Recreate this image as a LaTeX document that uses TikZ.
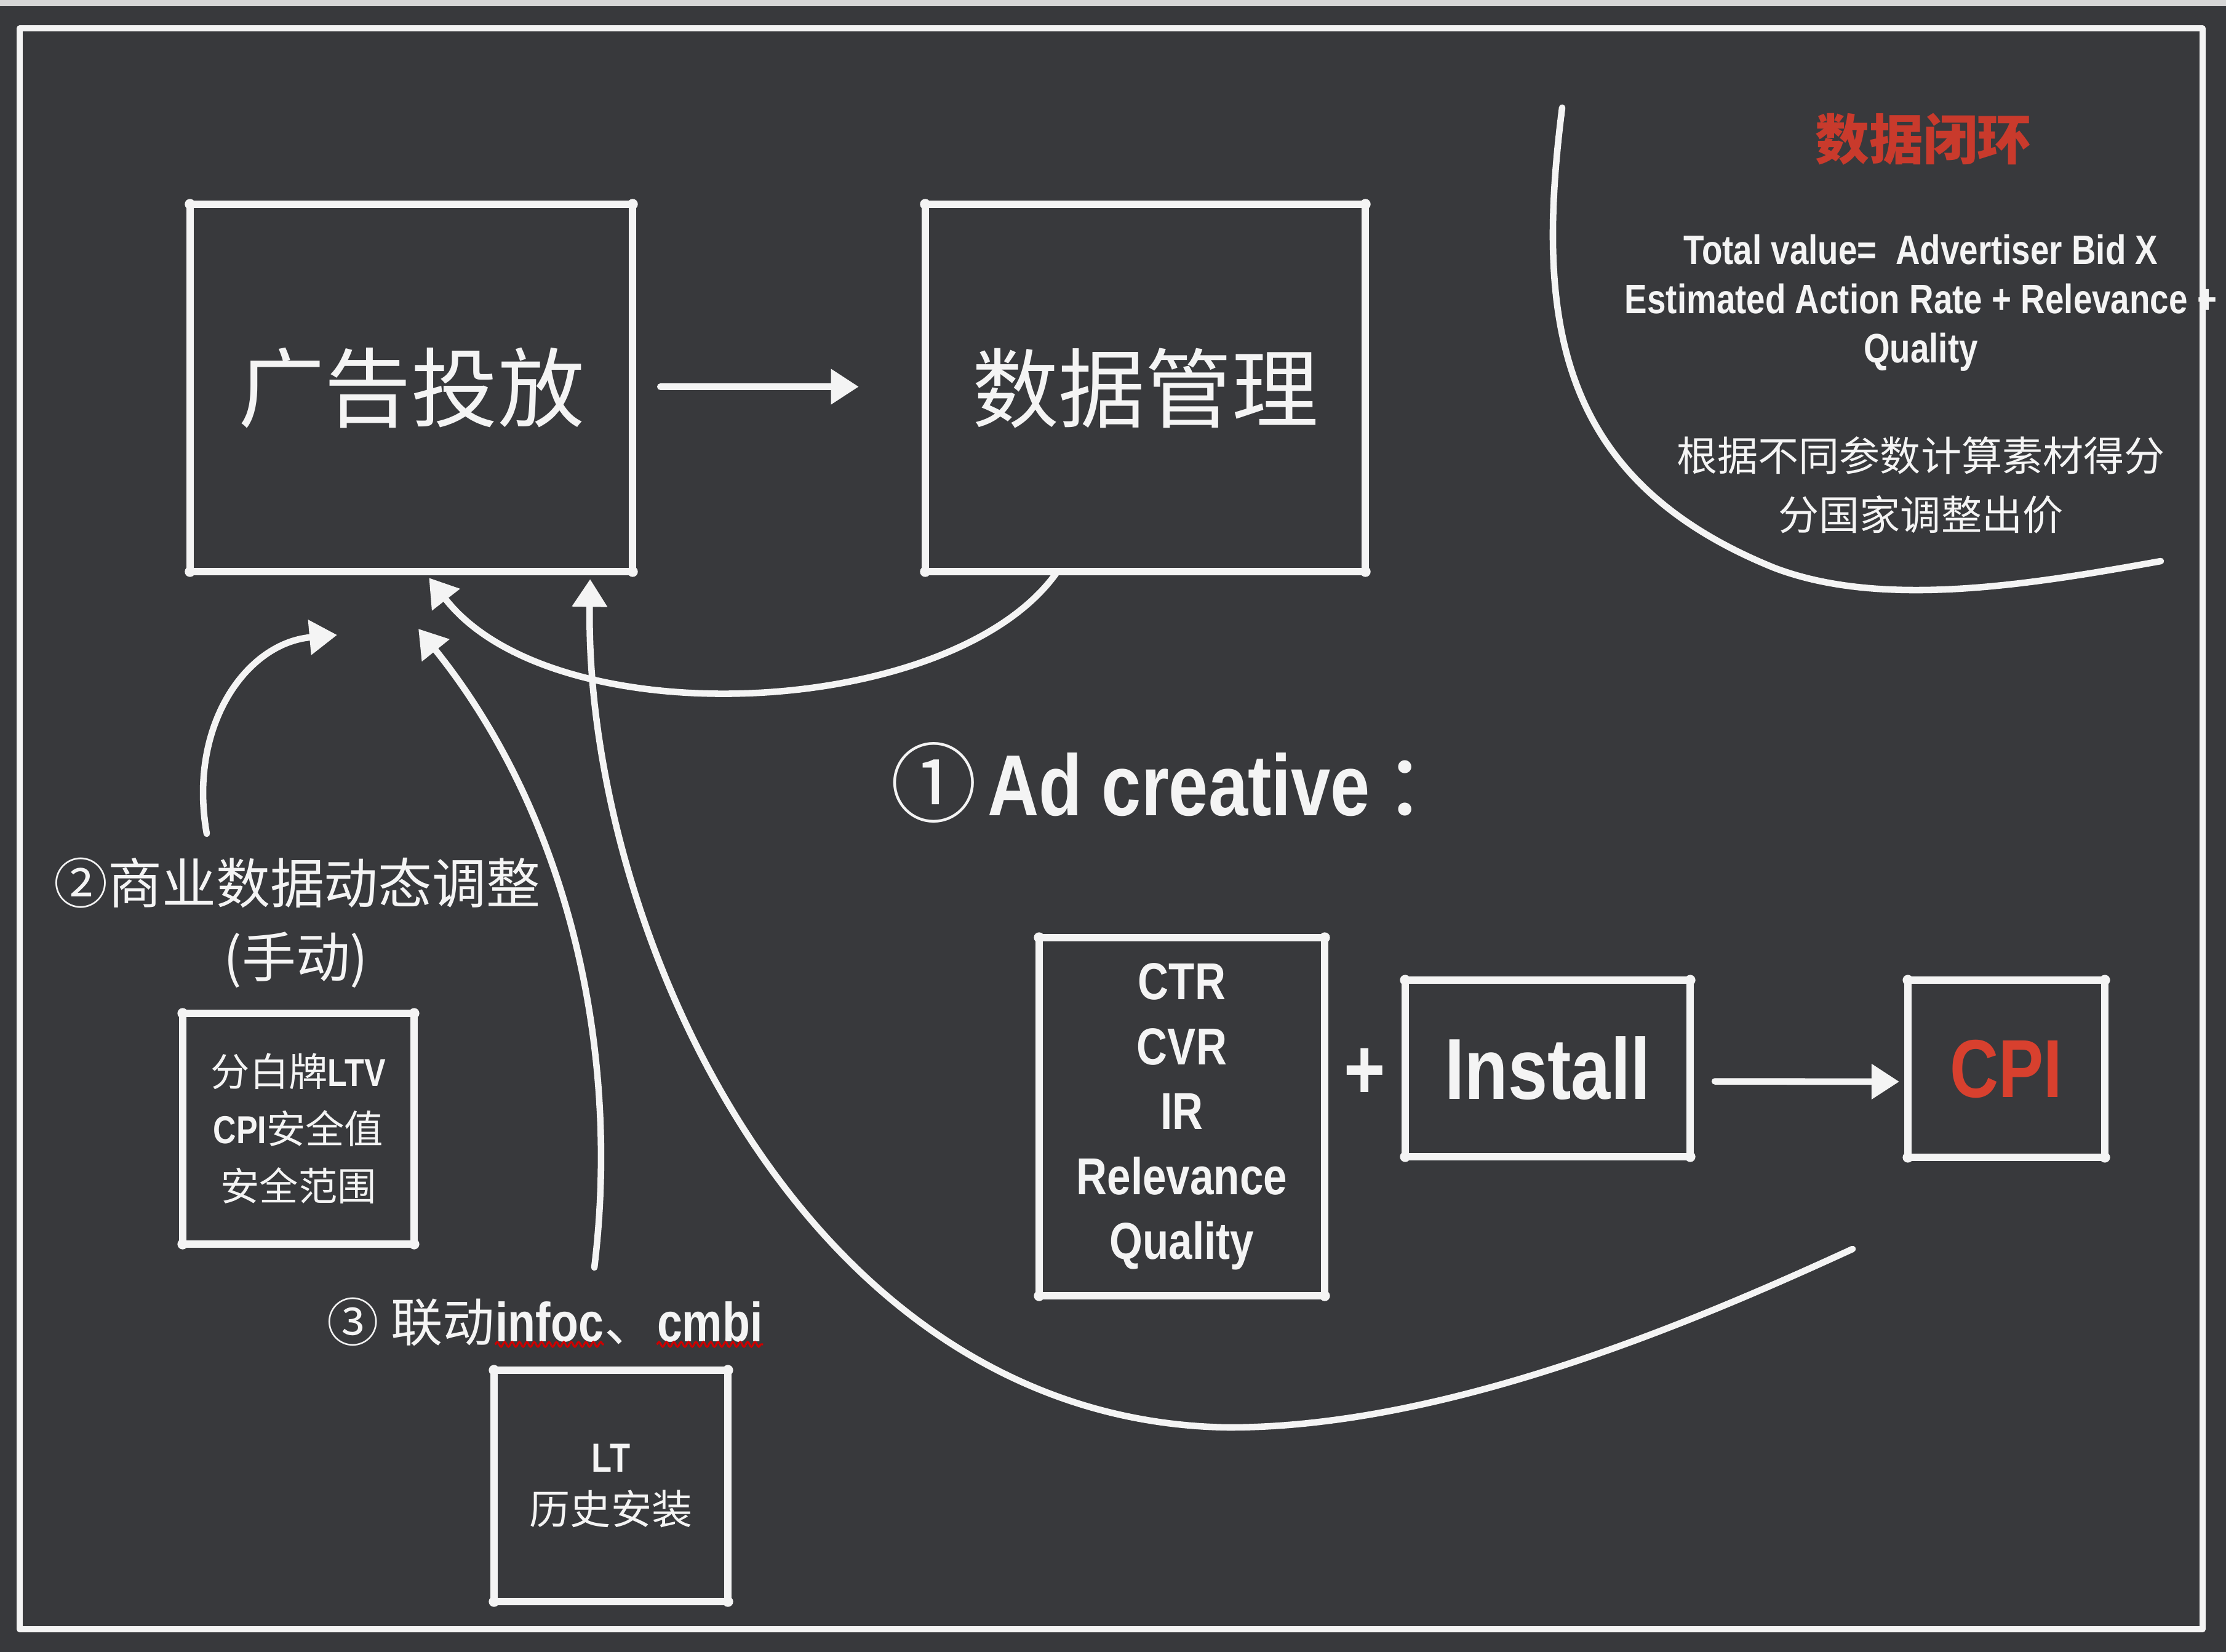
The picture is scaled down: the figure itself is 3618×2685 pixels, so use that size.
\documentclass[tikz,border=0pt]{standalone}
\usepackage{fontspec}
\setmainfont{Liberation Sans}
\newfontfamily\cjkfont{Noto Sans CJK SC}
\newfontfamily\condfont{Liberation Sans}[FakeStretch=0.82]
\usetikzlibrary{arrows.meta,calc,decorations.pathmorphing}
\definecolor{bgc}{HTML}{38393C}
\definecolor{chalk}{HTML}{F4F4F4}
\definecolor{cpired}{HTML}{D8402E}
\definecolor{ttlred}{HTML}{C93A2C}
\definecolor{bandc}{HTML}{D6D6D6}
\newcommand\myfs[2]{\fontsize{#1}{#2}\selectfont}
\tikzset{
  box/.style={draw=chalk, line width=3.4pt, line join=round, outer sep=0pt, inner sep=0pt, text=chalk, align=center},
  conn/.style={draw=chalk, line width=3pt, line cap=round, -{Triangle[length=4.5mm,width=5.5mm]}},
  chalkline/.style={draw=chalk, line width=3pt, line cap=round},
  frame/.style={draw=chalk, line width=2.8pt, line join=round},
  lbl/.style={text=chalk, inner sep=0pt},
  squig/.style={draw=red!80!black, line width=0.9pt, decorate, decoration={snake, amplitude=0.4mm, segment length=1.2mm}}
}
\begin{document}
\begin{tikzpicture}[x=0.01cm,y=-0.01cm]
\useasboundingbox (0,0) rectangle (3618,2685);
\fill[bgc] (0,0) rectangle (3618,2685);
\fill[bandc] (0,0) rectangle (3618,10);
\draw[frame] (32,46) rectangle (3580,2648);

% top boxes
\node[box, minimum width=7.19cm, minimum height=5.97cm, font=\cjkfont\myfs{40}{48}] (box1) at (668.5,630.5) {广告投放};
\node[box, minimum width=7.15cm, minimum height=5.97cm, font=\cjkfont\myfs{40}{48}] (box2) at (1861.5,630.5) {数据管理};
\draw[conn] ([xshift=0.45cm,yshift=0.02cm]box1.east) -- ([xshift=-1.08cm,yshift=0.02cm]box2.west);

% Ad creative
\node[lbl, anchor=west, font=\myfs{40}{48}] (adc) at (1447,1272) {{\cjkfont ①}\hspace{0.12em}{\condfont\bfseries Ad creative}\hspace{0.15em}{\cjkfont ：}};

% bottom right boxes
\node[box, minimum width=4.64cm, minimum height=5.82cm, font=\condfont\bfseries\myfs{24}{30}] (ctr) at (1921,1815) {CTR\\CVR\\IR\\Relevance\\Quality};
\node[lbl, font=\condfont\bfseries\myfs{40}{48}] (plus) at (2218,1745) {+};
\node[box, minimum width=4.63cm, minimum height=2.87cm, font=\condfont\bfseries\myfs{40}{48}] (inst) at (2515.5,1736.5) {Install};
\node[box, minimum width=3.2cm, minimum height=2.88cm, text=cpired, font=\condfont\bfseries\myfs{38}{46}] (cpi) at (3261,1737) {CPI};
\draw[conn] ([xshift=0.4cm,yshift=-0.21cm]inst.east) -- ([xshift=-0.14cm,yshift=-0.21cm]cpi.west);

% top right
\node[lbl, text=ttlred, font=\cjkfont\bfseries\myfs{25}{30}] (ttl) at (3126,226) {数据闭环};
\node[lbl, align=center, font=\condfont\bfseries\myfs{19}{22.8}] (formula) at (3122,492) {Total value=\ \ Advertiser Bid X\\Estimated Action Rate + Relevance +\\Quality};
\node[lbl, align=center, font=\cjkfont\myfs{18.8}{27.3}] (cn) at (3122,788) {根据不同参数计算素材得分\\分国家调整出价};
\coordinate (loopA) at (2539,175);
\coordinate (loopB) at (3512,912);
\draw[chalkline] (loopA) .. controls (2495,520) and (2530,780) .. (2884,923) .. controls (3060,990) and (3300,950) .. (loopB);

% left labels and boxes
\node[lbl, font=\cjkfont\myfs{25}{30}] (lbl2) at (483,1435) {②商业数据动态调整};
\node[lbl, font=\cjkfont\myfs{25}{30}] (lbl2b) at (481,1560) {(手动)};
\node[box, minimum width=3.76cm, minimum height=3.75cm, font=\myfs{18}{26.5}] (ltv) at (485,1834.5) {{\cjkfont 分白牌}{\condfont\bfseries LTV}\\{\condfont\bfseries CPI}{\cjkfont 安全值}\\{\cjkfont 安全范围}};

\node[lbl, anchor=base west, font=\cjkfont\myfs{24}{29}] (l3a) at (531,2180) {③ 联动};
\node[lbl, anchor=base west, font=\condfont\bfseries\myfs{25.5}{29}] (l3b) at (l3a.base east) {infoc};
\node[lbl, anchor=base west, font=\cjkfont\myfs{24}{29}] (l3c) at (l3b.base east) {、};
\node[lbl, anchor=base west, font=\condfont\bfseries\myfs{25.5}{29}] (l3d) at (l3c.base east) {cmbi};
\draw[squig] ([yshift=-0.05cm]l3b.base west) -- ([yshift=-0.05cm]l3b.base east);
\draw[squig] ([yshift=-0.05cm]l3d.base west) -- ([yshift=-0.05cm]l3d.base east);

\node[box, minimum width=3.8cm, minimum height=3.76cm, font=\myfs{18.8}{24}] (lt) at (993,2415) {{\condfont\bfseries LT}\\{\cjkfont 历史安装}};

% box corner blobs
\foreach \n in {box1,box2,ctr,inst,cpi,ltv,lt}{
  \foreach \c in {north west,north east,south west,south east}{
    \fill[chalk] (\n.\c) circle[radius=0.085cm];
  }
}

% connectors
\coordinate (a0) at ($(box2.south west)!0.3!(box2.south east)$);
\coordinate (a1) at ($(box1.south west)!0.54!(box1.south east)+(0,10)$);
\draw[conn] (a0) .. controls (1550,1170) and (900,1200) .. (a1);

\coordinate (b0) at (336,1355);
\coordinate (b1) at (548,1032);
\draw[conn] (b0) .. controls (305,1180) and (400,1045) .. (b1);

\coordinate (c0) at (966,2060);
\coordinate (c1) at (680,1022);
\draw[conn] (c0) .. controls (1010,1700) and (920,1320) .. (c1);

\coordinate (d0) at (3011,2030);
\coordinate (d1) at ($(box1.south west)!0.904!(box1.south east)+(0,12)$);
\draw[conn] (d0) .. controls (2750,2150) and (2350,2320) .. (1997,2320) .. controls (1300,2310) and (950,1500) .. (d1);
\end{tikzpicture}
\end{document}
